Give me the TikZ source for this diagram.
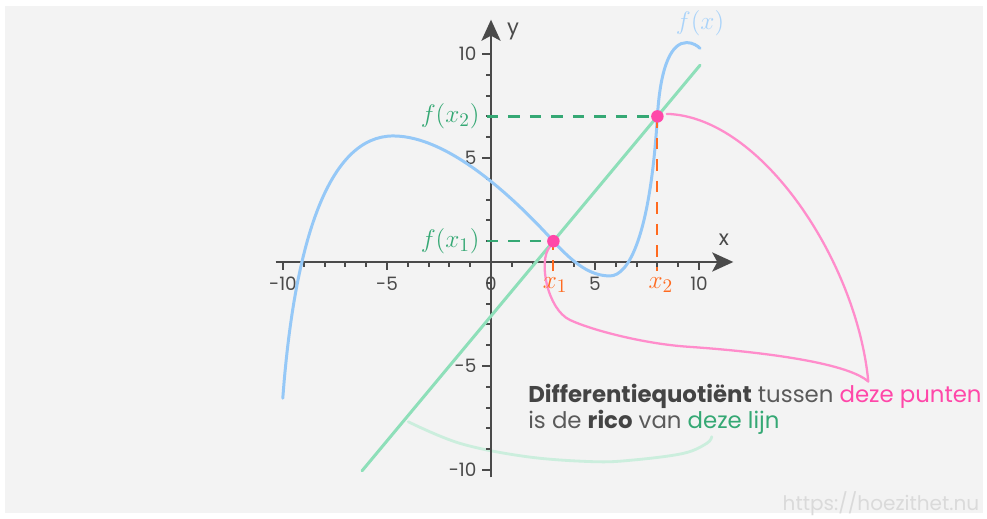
\documentclass[tikz,border=0pt]{standalone}
\usepackage[no-math]{fontspec}
\newfontfamily\roundfont{Poppins}
\usepackage{tikz}
\usetikzlibrary{arrows.meta}
\definecolor{hzbg}{HTML}{F3F3F3}
\definecolor{hzaxis}{HTML}{4A4A4A}
\definecolor{hztext}{HTML}{5A5A5A}
\definecolor{hzdark}{HTML}{444444}
\definecolor{hzblue}{HTML}{95C8F7}
\definecolor{hzsky}{HTML}{A9D3FA}
\definecolor{hzmint}{HTML}{8EDFB9}
\definecolor{hzgreen}{HTML}{35A874}
\definecolor{hzpink}{HTML}{FF47A9}
\definecolor{hzrose}{HTML}{FF8CCB}
\definecolor{hzorange}{HTML}{FF6A1F}
\definecolor{hzpale}{HTML}{CBEEDD}
\definecolor{hzmark}{HTML}{DADADA}

\begin{document}
\begin{tikzpicture}[
  x=4.16mm, y=4.16mm,
  font=\roundfont\fontsize{10.5}{12}\selectfont,
  axisline/.style={line width=1.6pt, draw=hzaxis},
  axarr/.style={axisline, -{Stealth[length=4.2mm, width=3.8mm, inset=1mm]}},
  tickmark/.style={line width=1.1pt, draw=hzaxis},
  numlab/.style={text=hzaxis, inner sep=1pt},
  mlab/.style={font=\fontsize{15}{17}\selectfont, inner sep=1pt},
  fcurve/.style={line width=1.7pt, draw=hzblue, line cap=round},
  secant/.style={line width=1.7pt, draw=hzmint, line cap=round},
  hdash/.style={line width=1.4pt, draw=hzgreen, dash pattern=on 2.3mm off 2mm},
  vdash/.style={line width=1.2pt, draw=hzorange, dash pattern=on 2.3mm off 2mm},
  ptdot/.style={circle, fill=hzpink, inner sep=0pt, minimum size=2.5mm},
  pinkhook/.style={line width=1.3pt, draw=hzrose, line cap=round, line join=round},
  pale/.style={line width=1.6pt, draw=hzpale, line cap=round},
]
% canvas
\useasboundingbox[fill=white] (-23.606,-12.308) rectangle (23.846,12.596);
\fill[hzbg] (-23.37,-12.07) rectangle (23.65,12.31);
% points and axis ends
\coordinate (P1) at (3,1);
\coordinate (P2) at (8,7);
\coordinate (xmin) at (-10.35,0);
\coordinate (xmax) at (11.65,0);
\coordinate (ymin) at (0,-10.35);
\coordinate (ymax) at (0,11.65);
% tick labels
\foreach \i/\n in {-10/a,-5/b,0/c,5/d,10/e}
  \node[numlab] (xlab\n) at (\i,-1.05) {\i};
\foreach \j/\n in {10/a,5/b,-5/c,-10/d}
  \node[numlab, anchor=east] (ylab\n) at (-0.6,\j) {\j};
\node[numlab, font=\roundfont\fontsize{12}{14}\selectfont] (xname) at (11.2,1.06) {x};
\node[numlab, font=\roundfont\fontsize{12}{14}\selectfont] (yname) at (1.06,11.1) {y};
% bracket under the text
\draw[pale] plot[smooth, tension=0.6] coordinates {(-3.98,-7.68) (-1.49,-8.72) (1.72,-9.36) (4.92,-9.60) (6.84,-9.52) (9.25,-9.20) (10.37,-8.72) (10.61,-8.40)};
% axes
\foreach \i in {-10,...,10}
  \draw[tickmark] (\i,0) -- (\i,-0.25);
\foreach \i in {-10,-5,5,10}
  \draw[tickmark] (\i,0) -- (\i,-0.38);
\foreach \j in {-10,...,10}
  \draw[tickmark] (0,\j) -- (-0.25,\j);
\foreach \j in {-10,-5,5,10}
  \draw[tickmark] (0,\j) -- (-0.45,\j);
\draw[axarr] (xmin) -- (xmax);
\draw[axarr] (ymin) -- (ymax);
% secant and graph
\coordinate (sa) at (-6.2,-10.04);
\coordinate (sb) at (10.05,9.46);
\draw[secant] (sa) -- (sb);
\draw[fcurve] (-10.01,-6.55) .. controls (-9.45,1.0) and (-7.8,6.06) .. (-4.70,6.06)
  .. controls (-2.0,6.06) and (1.2,2.98) .. (P1)
  .. controls (4.0,-0.1) and (4.8,-0.67) .. (5.72,-0.67)
  .. controls (6.6,-0.67) and (7.65,1.2) .. (P2)
  .. controls (8.15,9.5) and (8.7,10.55) .. (9.41,10.55)
  .. controls (9.7,10.55) and (9.95,10.38) .. (10.05,10.27);
% pink hook from the points to the text
\draw[pinkhook] (8.45,7.12) .. controls (13.0,7.0) and (17.6,0) .. (18.14,-5.75)
  .. controls (17.2,-4.9) and (13.5,-4.35) .. (9.41,-4.07)
  .. controls (7.4,-3.93) and (4.9,-3.3) .. (3.80,-2.79)
  .. controls (2.7,-2.28) and (2.25,0.1) .. (2.84,0.74);
% projections
\coordinate (fa) at (-0.2,1);
\coordinate (fb) at (-0.2,7);
\coordinate (xa) at (3,-0.45);
\coordinate (xb) at (8,-0.45);
\draw[hdash] (fa) -- (P1);
\draw[hdash] (fb) -- (P2);
\draw[vdash] (xa) -- (P1);
\draw[vdash] (P2) -- (xb);
\node[ptdot] (p1) at (P1) {};
\node[ptdot] (p2) at (P2) {};
% math labels
\node[mlab, text=hzgreen, anchor=east] (fxa) at (-0.45,1) {$f(x_1)$};
\node[mlab, text=hzgreen, anchor=east] (fxb) at (-0.45,7) {$f(x_2)$};
\node[mlab, text=hzorange] (xla) at (3.08,-1.1) {$x_1$};
\node[mlab, text=hzorange] (xlb) at (8.17,-1.1) {$x_2$};
\node[mlab, text=hzsky] (fx) at (10.05,11.5) {$f(x)$};
% caption
\node[anchor=west, align=left, inner sep=0pt, text=hztext, font=\roundfont\fontsize{13}{14.8}\selectfont] (quote) at (1.78,-7.1)
  {{\color{hzdark}\bfseries Differentiequotiënt} tussen \textcolor{hzpink}{deze punten}\\is de {\color{hzdark}\bfseries rico} van \textcolor{hzgreen}{deze lijn}};
\node[text=hzmark, font=\roundfont\fontsize{11.4}{13}\selectfont] (site) at (18.75,-11.63) {https://hoezithet.nu};
\end{tikzpicture}
\end{document}
